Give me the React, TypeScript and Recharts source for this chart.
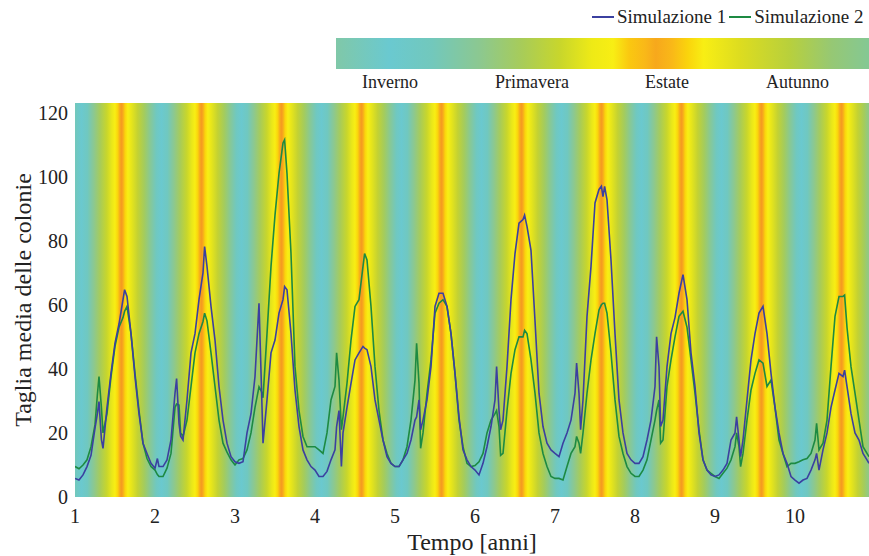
import { LineChart, Line, XAxis, YAxis, ReferenceArea } from 'recharts';

// tempo in anni (campionamento ~0.05 anni, più punti vicino ai picchi primaverili)
const tempo = [
  1.00, 1.05, 1.10, 1.15, 1.20, 1.25, 1.28, 1.30, 1.33, 1.35, 1.40, 1.45, 1.50, 1.55, 1.60, 1.62, 1.65, 1.70, 1.75, 1.80, 1.85, 1.90, 1.95,
  2.00, 2.03, 2.05, 2.10, 2.15, 2.20, 2.25, 2.27, 2.30, 2.32, 2.35, 2.40, 2.45, 2.50, 2.55, 2.60, 2.62, 2.65, 2.70, 2.75, 2.80, 2.85, 2.90, 2.95,
  3.00, 3.05, 3.10, 3.15, 3.20, 3.25, 3.30, 3.33, 3.35, 3.40, 3.45, 3.50, 3.55, 3.60, 3.62, 3.65, 3.70, 3.75, 3.80, 3.85, 3.90, 3.95,
  4.00, 4.05, 4.10, 4.15, 4.20, 4.25, 4.27, 4.30, 4.33, 4.35, 4.40, 4.45, 4.50, 4.55, 4.60, 4.62, 4.65, 4.70, 4.75, 4.80, 4.85, 4.90, 4.95,
  5.00, 5.05, 5.10, 5.15, 5.20, 5.25, 5.27, 5.30, 5.32, 5.35, 5.40, 5.45, 5.50, 5.55, 5.60, 5.65, 5.70, 5.75, 5.80, 5.85, 5.90, 5.95,
  6.00, 6.05, 6.10, 6.15, 6.20, 6.25, 6.27, 6.30, 6.32, 6.35, 6.40, 6.45, 6.50, 6.55, 6.60, 6.62, 6.65, 6.70, 6.75, 6.80, 6.85, 6.90, 6.95,
  7.00, 7.05, 7.10, 7.15, 7.20, 7.25, 7.27, 7.30, 7.32, 7.35, 7.40, 7.45, 7.50, 7.55, 7.58, 7.60, 7.62, 7.65, 7.70, 7.75, 7.80, 7.85, 7.90, 7.95,
  8.00, 8.05, 8.10, 8.15, 8.20, 8.25, 8.27, 8.30, 8.32, 8.35, 8.40, 8.45, 8.50, 8.55, 8.60, 8.65, 8.70, 8.75, 8.80, 8.85, 8.90, 8.95,
  9.00, 9.05, 9.10, 9.15, 9.20, 9.25, 9.27, 9.30, 9.32, 9.35, 9.40, 9.45, 9.50, 9.55, 9.60, 9.65, 9.70, 9.75, 9.80, 9.85, 9.90, 9.95,
  10.00, 10.05, 10.10, 10.15, 10.20, 10.25, 10.27, 10.30, 10.35, 10.40, 10.45, 10.50, 10.55, 10.60, 10.62, 10.65, 10.70, 10.75, 10.80, 10.85, 10.90, 10.925,
];

const simulazione1 = [
  5.8, 5.3, 6.9, 9.5, 13, 21.5, 26, 29.8, 18, 15.2, 28, 38.6, 48, 54, 61.6, 64.7, 62.6, 51, 37.6, 26, 16.8, 13.6, 10.5,
  9, 12, 9.5, 9.5, 11.6, 17.8, 32.4, 37, 23, 19, 17.8, 30.3, 45, 51, 61.6, 70, 78.2, 72, 59.5, 49, 34.5, 24, 16.8, 12.6,
  11, 10.5, 11, 20, 26, 37.6, 60.5, 35, 16.8, 30.3, 45, 49, 57.4, 61.6, 65.7, 64.7, 51, 33.4, 22, 14.7, 11.6, 9.5,
  8.4, 6.4, 6.4, 8, 11.6, 14.7, 22, 27, 9.5, 20, 28, 35.5, 42.8, 45, 47, 46.5, 46, 40.7, 30.3, 24, 17.8, 12.6, 10.5,
  9.5, 9.5, 11.6, 13.6, 17.8, 24, 25, 30.3, 21, 24, 30.3, 40.7, 59.5, 63.6, 63.6, 59.5, 51, 38.6, 25, 14.7, 11.6, 9.5,
  8.4, 6.9, 10.5, 15.7, 22, 30.3, 40.7, 27, 21, 24, 40.7, 61.6, 76, 85.5, 86.6, 88, 84.5, 77, 55, 32.4, 22, 16.8, 14.7,
  13.6, 12.6, 16.8, 20, 24, 32.4, 41.8, 32.4, 21, 30.3, 56.4, 72, 91.8, 96, 97, 93.8, 97, 92.8, 74, 51, 30.3, 20, 13.6, 11.6,
  10.5, 10.5, 12.6, 17.8, 24, 34.5, 50, 40.7, 22, 24, 40.7, 51, 56, 63.6, 69.4, 61.6, 45, 34.5, 20, 11.6, 8.4, 6.9,
  6.4, 6.9, 8.4, 10.5, 17.8, 20, 25, 17.8, 12.6, 17.8, 30.3, 42.8, 51, 57.4, 59.5, 51, 38.6, 28, 20, 13.6, 10.5, 6.4,
  5.3, 4.3, 5.3, 5.8, 8.4, 11.6, 13.6, 8.4, 14.7, 20, 28, 33.4, 38.6, 37.6, 39.6, 34.5, 26, 20, 17.8, 13.6, 11.6, 10.5,
];

const simulazione2 = [
  9.5, 8.8, 10, 11.6, 15.7, 22.5, 32, 37.6, 28, 20, 26, 37.6, 47, 53, 56, 58, 59.5, 51, 38.6, 27, 16.8, 12, 9.5,
  8.4, 7, 6.4, 6.4, 9, 13.6, 28, 29, 28.7, 20, 18.9, 24, 34.5, 45, 51, 54.8, 57.4, 55, 45, 34.5, 24, 16.8, 14, 11.6,
  10, 11.6, 12, 14.7, 20, 28, 34.4, 33, 31, 51, 72, 88, 101, 110.5, 111.5, 101, 76, 40.7, 27, 18.9, 15.7, 15.7,
  15.7, 14.7, 13.6, 20, 30.3, 34.5, 45, 36.5, 21, 25, 35.5, 49, 59.5, 61.6, 72, 76, 74, 59.5, 40.7, 27, 17.8, 13.6, 10.5,
  9.5, 9.5, 11.6, 15.7, 24, 36.5, 48, 35.5, 15.2, 20, 32.4, 42.8, 57.4, 60.5, 61.6, 59.5, 51, 38.6, 24, 15.7, 10.5, 9.5,
  9.8, 11, 13.6, 20, 24, 26, 27, 22, 13, 13.6, 27, 38.6, 46, 50, 50, 52, 51, 42.8, 32.4, 20, 13.6, 9.5, 6.4,
  5.8, 5.8, 5.3, 9.5, 13.6, 15.7, 18.9, 16.8, 13.6, 20, 32.4, 42.8, 51, 58.4, 60, 60.5, 60.5, 57.4, 45, 30.3, 18.9, 13.6, 9.5, 7.4,
  6.4, 6.4, 8.4, 11.6, 17.8, 24, 27, 30.3, 16.8, 17.8, 34.5, 42.8, 50, 56.4, 58, 53, 42.8, 32.4, 21, 11.6, 8.4, 7.4,
  6.4, 5.8, 7.4, 9, 11.6, 15.7, 20, 15.7, 9.5, 13.6, 24, 33.4, 38.6, 42.8, 41.8, 34.5, 36.5, 28, 17.8, 13.6, 9.5, 10.5,
  10.5, 11, 11.6, 12, 13.6, 17.8, 23, 14.7, 16.8, 24, 40.7, 56.4, 62.6, 62.6, 63, 53, 40.7, 32.4, 24, 15.7, 13.6, 12.6,
];

const anniTicks = [1, 2, 3, 4, 5, 6, 7, 8, 9, 10];
const tagliaTicks = [0, 20, 40, 60, 80, 100, 120];
// centro dell'inverno (azzurro) di ogni ciclo stagionale
const inverni = [0.08, 1.08, 2.08, 3.08, 4.08, 5.08, 6.08, 7.08, 8.08, 9.08, 10.08];
const stagioni = ['Inverno', 'Primavera', 'Estate', 'Autunno'];

const data = tempo.map((t, i) => ({ t, s1: simulazione1[i], s2: simulazione2[i] }));

const coloriStagione: [number, string][] = [
  [0, '#6ac9d0'],
  [0.08, '#70c8c0'],
  [0.16, '#8cc890'],
  [0.24, '#a8cc58'],
  [0.32, '#c8d62c'],
  [0.38, '#e8e61a'],
  [0.42, '#f8ee14'],
  [0.455, '#fad40c'],
  [0.48, '#f7aa1c'],
  [0.5, '#f59a20'],
  [0.52, '#f7aa1c'],
  [0.545, '#fad40c'],
  [0.58, '#f8ee14'],
  [0.63, '#e4e41c'],
  [0.7, '#c4d232'],
  [0.78, '#a4cc5c'],
  [0.86, '#86c898'],
  [0.93, '#70c8c0'],
  [1, '#6ac9d0'],
];

const BLU = '#3b40a0';
const VERDE = '#1d8a42';
const FONT = 'Liberation Serif, Times New Roman, serif';

const XTick = ({ x, y, payload }: any) => (
  <text x={x} y={y} dy="0.71em" textAnchor="middle" fontSize={20} fill="#222" fontFamily={FONT}>
    {payload.value}
  </text>
);

const YTick = ({ x, y, payload }: any) => (
  <text x={x} y={y} dy="0.35em" textAnchor="end" fontSize={20} fill="#222" fontFamily={FONT}>
    {payload.value}
  </text>
);

const YLabel = ({ viewBox }: any) => {
  const cx = viewBox.x + 23;
  const cy = viewBox.y + viewBox.height / 2;
  return (
    <text x={cx} y={cy} transform={`rotate(-90 ${cx} ${cy})`} textAnchor="middle" dominantBaseline="central"
          fontSize={24} fill="#222" fontFamily={FONT}>
      Taglia media delle colonie
    </text>
  );
};

const XLabel = ({ viewBox }: any) => (
  <text x={viewBox.x + viewBox.width / 2} y={viewBox.y + 53} textAnchor="middle" fontSize={24} fill="#222"
        fontFamily={FONT}>
    Tempo [anni]
  </text>
);

const Legenda = () => (
  <div style={{ position: 'absolute', left: 0, top: 0, width: 869, height: 100, color: '#222' }}>
    <div style={{ position: 'absolute', left: 592, top: 6, fontSize: 19, display: 'flex', alignItems: 'center', whiteSpace: 'nowrap' }}>
      <span style={{ display: 'inline-block', width: 22, height: 2, background: BLU, marginRight: 3 }} />
      <span>Simulazione 1</span>
      <span style={{ display: 'inline-block', width: 22, height: 2, background: VERDE, margin: '0 3px 0 3px' }} />
      <span>Simulazione 2</span>
    </div>
    <div style={{
      position: 'absolute', left: 336, top: 38, width: 533, height: 31,
      background: 'linear-gradient(to right, #80c8a8 0%, #6ac9d0 10%, #72c8bc 18%, #8cc890 27%, #a8cc58 35%, #c8d62c 42%, #eeea16 48%, #f8ee14 52%, #fac810 55%, #f9b818 58%, #f7a81c 60%, #f9b818 63%, #fad40c 66%, #f8ee14 69%, #dcdc20 76%, #b8d03c 85%, #96c874 93%, #84c894 100%)',
    }} />
    {stagioni.map((s, i) => (
      <div key={s} style={{ position: 'absolute', left: [362, 495, 645, 766][i], top: 72, fontSize: 18, whiteSpace: 'nowrap' }}>{s}</div>
    ))}
  </div>
);

export default function App() {
  return (
    <div style={{ position: 'absolute', left: 0, top: 0, width: 869, height: 556, background: '#fff', fontFamily: FONT }}>
      <Legenda />
      <LineChart width={869} height={556} data={data} margin={{ top: 103, right: 0, bottom: 0, left: 0 }}
                 style={{ position: 'absolute', left: 0, top: 0 }}>
        <defs>
          <linearGradient id="stagione" x1="0" y1="0" x2="1" y2="0">
            {coloriStagione.map(([o, c]) => (
              <stop key={o} offset={o} stopColor={c} />
            ))}
          </linearGradient>
        </defs>
        {inverni.map((inizio) => (
          <ReferenceArea key={inizio} x1={inizio - 0.006} x2={inizio + 1.006} ifOverflow="hidden"
                         fill="url(#stagione)" fillOpacity={1} stroke="none" />
        ))}
        <XAxis dataKey="t" type="number" domain={[1, 10.925]} ticks={anniTicks} allowDataOverflow
               axisLine={false} tickLine={false} tickSize={4} tickMargin={8} height={59} interval={0}
               tick={<XTick />} label={<XLabel />} />
        <YAxis type="number" domain={[0, 123]} ticks={tagliaTicks} allowDataOverflow width={75}
               axisLine={false} tickLine={false} tickSize={5} tickMargin={2} interval={0}
               tick={<YTick />} label={<YLabel />} />
        <Line dataKey="s2" stroke={VERDE} strokeWidth={1.6} dot={false} isAnimationActive={false} />
        <Line dataKey="s1" stroke={BLU} strokeWidth={1.6} dot={false} isAnimationActive={false} />
      </LineChart>
    </div>
  );
}
